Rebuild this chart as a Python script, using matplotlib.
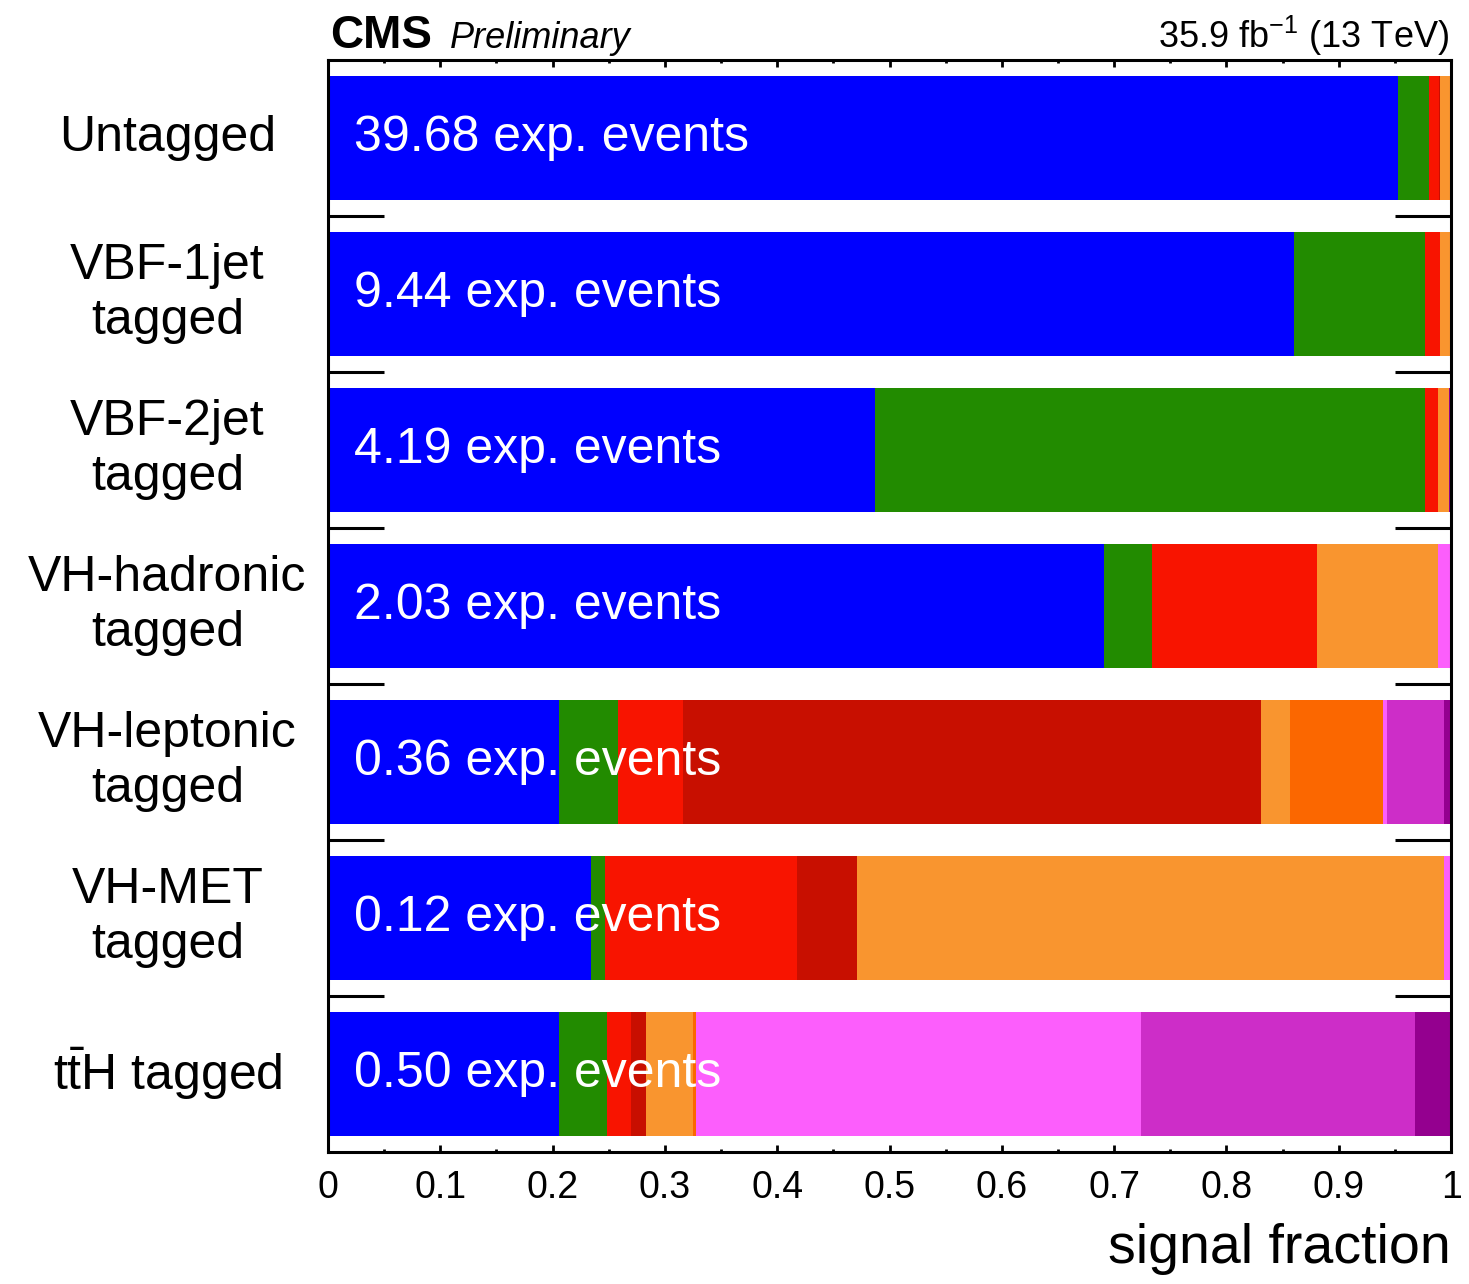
import numpy as np
import matplotlib.pyplot as plt
from matplotlib.ticker import MultipleLocator

plt.rcParams['font.family'] = ['Liberation Sans', 'DejaVu Sans']
plt.rcParams['mathtext.fontset'] = 'custom'
plt.rcParams['mathtext.rm'] = 'Liberation Sans'
plt.rcParams['mathtext.it'] = 'Liberation Sans:italic'

# categories (top to bottom)
categories = ['Untagged', 'VBF-1jet\ntagged', 'VBF-2jet\ntagged', 'VH-hadronic\ntagged',
              'VH-leptonic\ntagged', 'VH-MET\ntagged', r'$\mathrm{t\bar{t}}$H tagged']
exp_events = [39.68, 9.44, 4.19, 2.03, 0.36, 0.12, 0.50]

# signal fraction per production mode, one value per category
ggH      = [0.953, 0.860, 0.487, 0.691, 0.206, 0.234, 0.206]
VBF      = [0.027, 0.117, 0.490, 0.043, 0.052, 0.013, 0.042]
WH_had   = [0.009, 0.013, 0.011, 0.147, 0.058, 0.171, 0.022]
WH_lep   = [0.001, 0.000, 0.000, 0.000, 0.515, 0.053, 0.013]
ZH_had   = [0.009, 0.009, 0.010, 0.107, 0.026, 0.523, 0.042]
ZH_lep   = [0.000, 0.000, 0.000, 0.000, 0.082, 0.000, 0.003]
ttH_0l   = [0.001, 0.001, 0.000, 0.012, 0.004, 0.005, 0.396]
ttH_1l   = [0.000, 0.000, 0.000, 0.000, 0.051, 0.000, 0.244]
ttH_2l   = [0.000, 0.000, 0.002, 0.000, 0.006, 0.001, 0.032]

series = [ggH, VBF, WH_had, WH_lep, ZH_had, ZH_lep, ttH_0l, ttH_1l, ttH_2l]
colors = ['#0000ff', '#228b00', '#f81400', '#c80f00', '#f9952f',
          '#fb6700', '#fc5efc', '#cd2dc8', '#94008f']

fig = plt.figure(figsize=(14.69, 12.84), dpi=100)
ax = fig.add_axes([0.2233, 0.1028, 0.7645, 0.8505])

y = np.arange(len(categories))
left = np.zeros(len(categories))
for vals, c in zip(series, colors):
    ax.barh(y, vals, left=left, height=0.8, color=c, linewidth=0)
    left += np.array(vals)

for i, n in enumerate(exp_events):
    ax.text(0.023, i, f'{n:.2f} exp. events', color='white', fontsize=36,
            va='center', ha='left')

for i, lab in enumerate(categories):
    ax.text(-0.143, i, lab, transform=ax.get_yaxis_transform(), fontsize=36,
            ha='center', va='center', linespacing=1.25)

ax.set_xlim(0, 1)
ax.set_ylim(len(categories) - 0.5, -0.5)

ax.xaxis.set_minor_locator(MultipleLocator(0.05))
ax.set_xticks(np.arange(0, 1.01, 0.1))
ax.set_xticklabels(['0', '0.1', '0.2', '0.3', '0.4', '0.5', '0.6', '0.7', '0.8', '0.9', '1'])
ax.tick_params(axis='x', which='major', direction='in', length=5, width=2,
               top=True, labelsize=27, pad=13)
ax.tick_params(axis='x', which='minor', direction='in', length=2.5, width=2, top=True)

ax.set_yticks(np.arange(0.5, len(categories) - 0.5, 1.0))
ax.set_yticklabels([])
ax.tick_params(axis='y', which='major', direction='in', length=40, width=2.2,
               left=True, right=True)

for s in ax.spines.values():
    s.set_linewidth(2.2)

ax.set_xlabel('signal fraction', fontsize=40, loc='right', labelpad=12)

fig.text(0.2247, 0.963, 'CMS', fontsize=33, fontweight='bold', ha='left', va='baseline')
fig.text(0.306, 0.963, 'Preliminary', fontsize=26, style='italic', ha='left', va='baseline')
fig.text(0.9865, 0.963, r'35.9 fb$^{-1}$ (13 TeV)', fontsize=26, ha='right', va='baseline')

fig.savefig('out.png', dpi=100)
